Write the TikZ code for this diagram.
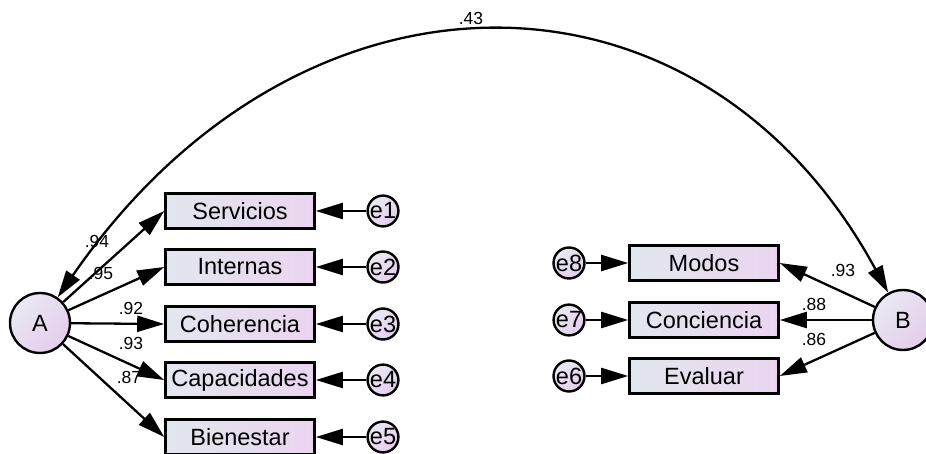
\documentclass[tikz,border=0pt]{standalone}
\usepackage{fontspec}
\setmainfont{Liberation Sans}
\usetikzlibrary{arrows.meta}
\definecolor{boxL}{HTML}{E2E7EE}
\definecolor{boxR}{HTML}{EBD4F0}
\definecolor{circL}{HTML}{E9E9F2}
\definecolor{circR}{HTML}{E4CDEC}
\begin{document}
\begin{tikzpicture}[x=1pt,y=-1pt,
  line width=2.3pt,
  arr/.style={-{Triangle[length=27pt,width=16pt]}},
  obs/.style={draw, line width=2.6pt, minimum width=149pt, minimum height=35pt,
    inner sep=0pt, left color=boxL, right color=boxR,
    font=\fontsize{23.5}{27}\selectfont},
  lat/.style={draw, circle, line width=2.4pt, minimum size=60pt, inner sep=0pt,
    top color=circL, bottom color=circR, shading angle=45,
    font=\fontsize{23.5}{27}\selectfont},
  err/.style={draw, circle, line width=2.4pt, minimum size=30pt, inner sep=0pt,
    top color=circL, bottom color=circR, shading angle=45,
    font=\fontsize{23.5}{27}\selectfont},
  coef/.style={font=\fontsize{17.5}{20}\selectfont, inner sep=0pt}]
\useasboundingbox (0,0) rectangle (926,454);

% latent factors
\node[lat] (A) at (40,323) {A};
\node[lat] (B) at (903,320) {B};

% indicators of A
\node[obs] (v1) at (240,211) {Servicios};
\node[obs] (v2) at (240,267) {Internas};
\node[obs] (v3) at (240,324) {Coherencia};
\node[obs] (v4) at (240,380) {Capacidades};
\node[obs] (v5) at (240,437) {Bienestar};

% indicators of B
\node[obs] (w1) at (704,263) {Modos};
\node[obs] (w2) at (704,320) {Conciencia};
\node[obs] (w3) at (704,376) {Evaluar};

% error terms
\node[err] (e1) at (383,211) {e1};
\node[err] (e2) at (383,267) {e2};
\node[err] (e3) at (383,324) {e3};
\node[err] (e4) at (383,380) {e4};
\node[err] (e5) at (383,437) {e5};
\node[err] (e8) at (569,263) {e8};
\node[err] (e7) at (569,320) {e7};
\node[err] (e6) at (569,376) {e6};

% loadings
\draw[arr] (A) -- (v1.west);
\draw[arr] (A) -- (v2.west);
\draw[arr] (A) -- (v3.west);
\draw[arr] (A) -- (v4.west);
\draw[arr] (A) -- (v5.west);
\draw[arr] (B) -- (w1.east);
\draw[arr] (B) -- (w2.east);
\draw[arr] (B) -- (w3.east);

% residuals
\draw[arr] (e1) -- (v1);
\draw[arr] (e2) -- (v2);
\draw[arr] (e3) -- (v3);
\draw[arr] (e4) -- (v4);
\draw[arr] (e5) -- (v5);
\draw[arr] (e8) -- (w1);
\draw[arr] (e7) -- (w2);
\draw[arr] (e6) -- (w3);

% factor covariance
\draw[{Triangle[length=27pt,width=16pt]}-{Triangle[length=27pt,width=16pt]}]
  (A) .. controls (300,-54) and (700,-54) .. (B);

% coefficients
\node[coef] (c0) at (471,18) {.43};
\node[coef] (c1) at (97,241) {.94};
\node[coef] (c2) at (101,273) {.95};
\node[coef] (c3) at (131,308) {.92};
\node[coef] (c4) at (131,343) {.93};
\node[coef] (c5) at (129,377) {.87};
\node[coef] (c6) at (843,270) {.93};
\node[coef] (c7) at (814,304) {.88};
\node[coef] (c8) at (814,339) {.86};
\end{tikzpicture}
\end{document}
